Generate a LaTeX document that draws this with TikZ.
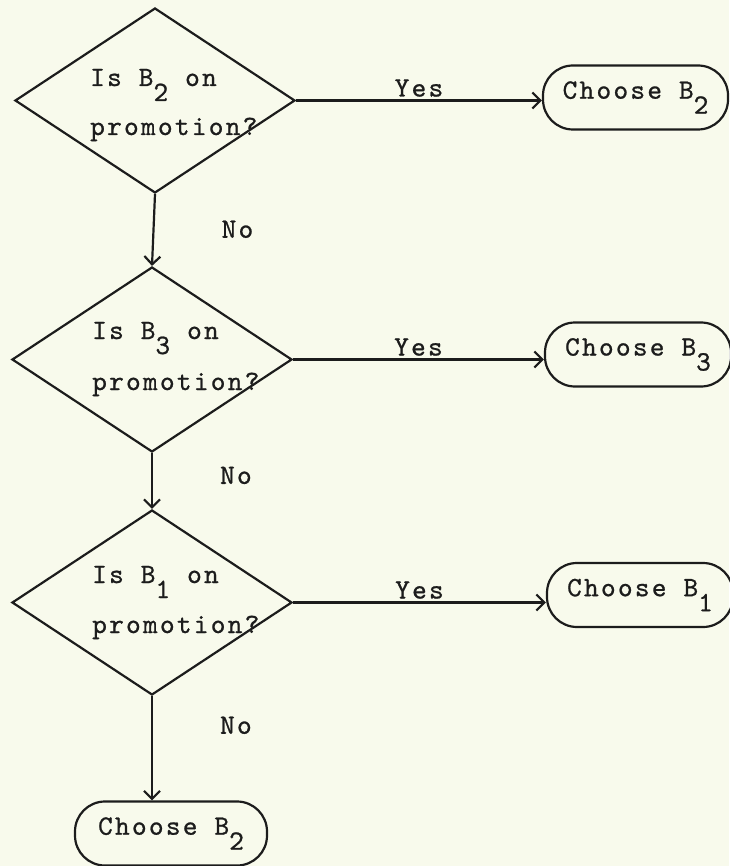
\documentclass[tikz,border=0pt]{standalone}
\usepackage{fontspec}
\newfontfamily\twfam{lmmono10-regular}[Extension=.otf, LetterSpace=8, FakeBold=0.8]
\usetikzlibrary{shapes.geometric,arrows.meta}
\definecolor{bg}{RGB}{248,250,236}
\definecolor{ink}{RGB}{28,28,28}
\newcommand\lowered[1]{\raisebox{-15pt}{#1}}
\newcommand\tw{\twfam\fontsize{28pt}{33pt}\selectfont}
\begin{document}
\begin{tikzpicture}[x=1pt,y=-1pt,
  decision/.style={diamond, draw=ink, line width=2.2pt, minimum width=280pt, minimum height=185pt, inner sep=0pt},
  term/.style={rectangle, rounded corners=30pt, draw=ink, line width=2.2pt, minimum height=64pt, inner sep=0pt, font=\tw, text=ink},
  txt/.style={inner sep=0pt, anchor=base west, font=\tw, text=ink},
  flow/.style={draw=ink, line width=2.2pt, -{Straight Barb[length=8pt,width=16pt]}},
  yeslab/.style={pos=0.5, anchor=base, yshift=4pt, inner sep=0pt, font=\tw, text=ink},
  nolab/.style={anchor=west, xshift=67pt, inner sep=0pt, font=\tw, text=ink}
]
\fill[bg] (0,0) rectangle (729,866);
\useasboundingbox (0,0) rectangle (729,866);

\node[decision] (d1) at (155,100.5) {};
\node[decision] (d2) at (152,359.5) {};
\node[decision] (d3) at (152,602.5) {};

\node[txt] (q1a) at (90,86) {Is B\lowered{2} on};
\node[txt] (q1b) at (90,135) {promotion?};
\node[txt] (q2a) at (92,339) {Is B\lowered{3} on};
\node[txt] (q2b) at (92,390) {promotion?};
\node[txt] (q3a) at (92,583) {Is B\lowered{1} on};
\node[txt] (q3b) at (92,633) {promotion?};

\node[term, minimum width=185pt] (b1) at (635.5,97.5) {Choose B\lowered{2}};
\node[term, minimum width=186pt] (b2) at (638,354.5) {Choose B\lowered{3}};
\node[term, minimum width=186pt] (b3) at (640,595) {Choose B\lowered{1}};
\node[term, minimum width=192pt] (b4) at (171,833.5) {Choose B\lowered{2}};

\draw[flow] (d1.east) -- node[yeslab]{Yes} (d1.east -| b1.west);
\draw[flow] (d2.east) -- node[yeslab]{Yes} (d2.east -| b2.west);
\draw[flow] (d3.east) -- node[yeslab]{Yes} (d3.east -| b3.west);

\draw[flow] (d1.south) -- node[nolab, pos=0.49]{No} (d2.north);
\draw[flow] (d2.south) -- node[nolab, pos=0.4]{No} (d3.north);
\draw[flow] (d3.south) -- node[nolab, pos=0.28]{No} (d3.south |- b4.north);
\end{tikzpicture}
\end{document}
